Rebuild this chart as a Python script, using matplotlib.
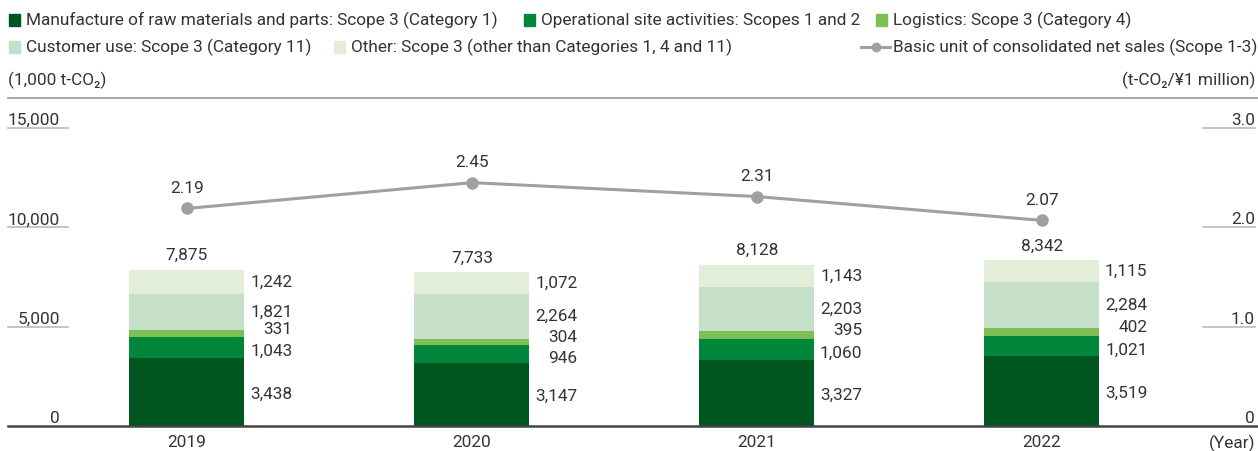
import matplotlib
matplotlib.use('Agg')
from matplotlib import pyplot as plt
from matplotlib.patches import Rectangle
from matplotlib.lines import Line2D

years = ['2019', '2020', '2021', '2022']
manufacture = [3438, 3147, 3327, 3519]
operational = [1043, 946, 1060, 1021]
logistics = [331, 304, 395, 402]
customer = [1821, 2264, 2203, 2284]
other = [1242, 1072, 1143, 1115]
totals = [7875, 7733, 8128, 8342]
basic_unit = [2.19, 2.45, 2.31, 2.07]

series = [manufacture, operational, logistics, customer, other]
colors = ['#00561f', '#00873c', '#7dbf55', '#c5dfc8', '#e2eed8']
names = ['Manufacture of raw materials and parts: Scope 3 (Category 1)',
         'Operational site activities: Scopes 1 and 2',
         'Logistics: Scope 3 (Category 4)',
         'Customer use: Scope 3 (Category 11)',
         'Other: Scope 3 (other than Categories 1, 4 and 11)']
line_name = 'Basic unit of consolidated net sales (Scope 1-3)'
# small vertical nudges (pixels) so the thin segments' labels don't collide
nudge = [-2, -4, 4, 0, 0]

plt.rcParams['font.family'] = ['Roboto', 'DejaVu Sans']
fs = 12.4
tc = '#333333'
W, H = 1258, 451

fig = plt.figure(figsize=(12.58, 4.51), dpi=100)
ax = fig.add_axes([0, (H - 426) / H, 1, 298 / H])
ax.set_xlim(-0.656, 3.758)
ax.set_ylim(0, 15000)
ax.axis('off')
ax2 = ax.twinx()
ax2.set_ylim(0, 3)
ax2.axis('off')

x = list(range(len(years)))
bw = 0.4035
bottom = [0] * 4
for vals, c, dy in zip(series, colors, nudge):
    ax.bar(x, vals, bw, bottom=bottom, color=c, zorder=2)
    for i in x:
        ax.annotate(f'{vals[i]:,}', (i + bw / 2, bottom[i] + vals[i] / 2),
                    xytext=(48, dy), textcoords='offset pixels',
                    ha='right', va='center', fontsize=fs, color=tc)
    bottom = [b + v for b, v in zip(bottom, vals)]
for i in x:
    ax.annotate(f'{totals[i]:,}', (i, bottom[i]), xytext=(0, 14),
                textcoords='offset pixels', ha='center', va='center',
                fontsize=fs, color=tc)
    ax.text(i, -850, years[i], ha='center', va='center', fontsize=fs, color=tc)

ax2.plot(x, basic_unit, color='#a0a0a0', lw=2.2, marker='o', ms=8, zorder=3)
for i in x:
    ax2.annotate(f'{basic_unit[i]:.2f}', (i, basic_unit[i]), xytext=(0, 20),
                 textcoords='offset pixels', ha='center', va='center',
                 fontsize=fs, color=tc)

def px(v):
    return v / W

for v in [0, 5000, 10000, 15000]:
    ax.text(px(60), v, f'{v:,}', transform=ax.get_yaxis_transform(),
            ha='right', va='bottom', fontsize=fs, color=tc)
    if v > 0:
        ax.plot([px(8), px(68)], [v, v], transform=ax.get_yaxis_transform(),
                color='#bbbbbb', lw=1.2, clip_on=False)
for v in [0, 1, 2, 3]:
    ax2.text(px(1255), v, f'{v:.1f}' if v else '0', transform=ax2.get_yaxis_transform(),
             ha='right', va='bottom', fontsize=fs, color=tc)
    if v > 0:
        ax2.plot([px(1203), px(1255)], [v, v], transform=ax2.get_yaxis_transform(),
                 color='#bbbbbb', lw=1.2, clip_on=False)

fig.add_artist(Line2D([px(8), 1], [(H - 426) / H] * 2, color='#444444', lw=1.8))
fig.add_artist(Line2D([px(8), 1], [(H - 98) / H] * 2, color='#999999', lw=1.2))

fig.text(px(8), 1 - 80 / H, '(1,000 t-CO₂)', ha='left', va='center', fontsize=fs, color=tc)
fig.text(px(1255), 1 - 80 / H, '(t-CO₂/¥1 million)', ha='right', va='center', fontsize=fs, color=tc)
fig.text(px(1255), 1 - 443 / H, '(Year)', ha='right', va='center', fontsize=fs, color=tc)

# legend drawn by hand to keep the reference positions
leg = [(0, 9, 20), (1, 524, 20), (2, 876, 20), (3, 9, 47), (4, 334, 47)]
for k, lx, ly in leg:
    fig.add_artist(Rectangle((px(lx), 1 - (ly + 5.5) / H), 11 / W, 11 / H,
                             color=colors[k], transform=fig.transFigure))
    fig.text(px(lx + 17), 1 - ly / H, names[k], ha='left', va='center',
             fontsize=fs, color=tc)
fig.add_artist(Line2D([px(861), px(890)], [1 - 47 / H] * 2, color='#a0a0a0', lw=2.2))
fig.add_artist(Line2D([px(876)], [1 - 47 / H], color='#a0a0a0', marker='o', ms=6))
fig.text(px(893), 1 - 47 / H, line_name, ha='left', va='center', fontsize=fs, color=tc)

fig.savefig('out.png', dpi=100)
